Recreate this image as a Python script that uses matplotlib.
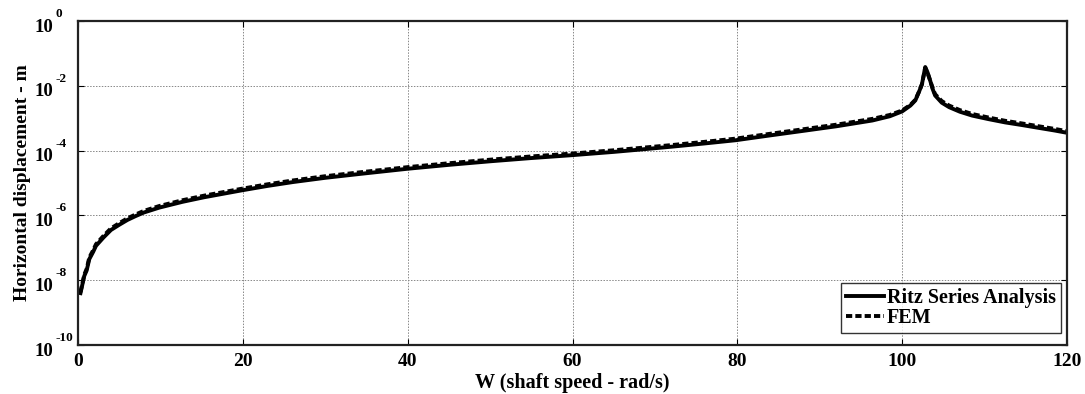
import numpy as np
import matplotlib
matplotlib.use("Agg")
import matplotlib.pyplot as plt
from matplotlib.ticker import FixedLocator, FixedFormatter
from matplotlib.transforms import ScaledTranslation

plt.rcParams['font.family'] = ['Liberation Serif', 'DejaVu Serif']
plt.rcParams['font.weight'] = 'bold'

# Shaft speed (rad/s) and log10 of horizontal displacement (m)
speed = [0.3, 0.76, 1.05, 1.37, 1.85, 2.18, 3.1, 4.0, 5.0, 6.0, 7.0, 8.0, 9.86,
         12.7, 15.3, 19.8, 23.0, 26.1, 30.0, 34.2, 40.0, 45.0, 50.0, 55.0, 60.0,
         65.0, 68.1, 72.0, 76.0, 79.8, 84.0, 88.3, 92.0, 96.4, 98.5, 100.0, 101.0,
         101.6, 102.1, 102.4, 102.8, 103.1, 103.4, 103.7, 104.0, 104.8, 105.7,
         107.0, 108.5, 110.5, 112.5, 114.5, 116.6, 118.5, 120.0]
ritz_log = [-8.40, -7.87, -7.70, -7.35, -7.12, -6.94, -6.68, -6.45, -6.29, -6.14,
            -6.02, -5.91, -5.76, -5.58, -5.44, -5.23, -5.09, -4.97, -4.84, -4.72,
            -4.56, -4.44, -4.33, -4.23, -4.14, -4.04, -3.97, -3.88, -3.78, -3.68,
            -3.53, -3.38, -3.25, -3.07, -2.94, -2.79, -2.61, -2.45, -2.15, -1.95,
            -1.42, -1.60, -1.84, -2.10, -2.30, -2.52, -2.66, -2.80, -2.92, -3.03,
            -3.13, -3.21, -3.30, -3.38, -3.45]
fem_log = [-8.37, -7.83, -7.65, -7.30, -7.07, -6.89, -6.63, -6.40, -6.24, -6.09,
           -5.97, -5.86, -5.71, -5.53, -5.39, -5.18, -5.04, -4.92, -4.79, -4.67,
           -4.51, -4.39, -4.28, -4.18, -4.09, -3.99, -3.92, -3.83, -3.73, -3.63,
           -3.48, -3.33, -3.20, -3.02, -2.90, -2.76, -2.59, -2.43, -2.15, -1.95,
           -1.45, -1.62, -1.84, -2.07, -2.26, -2.47, -2.61, -2.75, -2.87, -2.98,
           -3.08, -3.16, -3.25, -3.33, -3.40]

xticks = [0, 20, 40, 60, 80, 100, 120]
yexps = [0, -2, -4, -6, -8, -10]
ytick_base = ['10'] * len(yexps)
ytick_exp = ['0', '-2', '-4', '-6', '-8', '-10']

ritz = 10.0 ** np.array(ritz_log)
fem = 10.0 ** np.array(fem_log)

fig = plt.figure(figsize=(10.85, 3.94), dpi=100)
ax = fig.add_axes([78/1085, 1-345/394, (1067-78)/1085, (345-21)/394])

ax.plot(speed, ritz, color='black', lw=2.8, ls='-', label='Ritz Series Analysis',
        solid_joinstyle='round')
ax.plot(speed, fem, color='black', lw=2.8, ls=(0, (1.6, 0.8)), label='FEM')

ax.set_yscale('log')
ax.set_xlim(0, 120)
ax.set_ylim(1e-10, 1e0)
ax.xaxis.set_major_locator(FixedLocator(xticks))
ax.yaxis.set_major_locator(FixedLocator([10.0**e for e in yexps]))
ax.yaxis.set_minor_locator(FixedLocator([]))
ax.yaxis.set_major_formatter(FixedFormatter(ytick_base))
ax.tick_params(axis='y', labelsize=13.5, direction='in', length=4, width=0.8, right=True, pad=31)
ax.tick_params(axis='x', labelsize=14, direction='in', length=4, width=0.8, top=True, pad=6)

ax.grid(True, which='major', color='#888888', ls=(0, (1.5, 1.5)), lw=0.7)
for s in ax.spines.values():
    s.set_linewidth(1.6)
    s.set_color('#222222')

# y tick labels: left aligned, slightly below tick, with superscript exponents
shift = ScaledTranslation(0, -4/100, fig.dpi_scale_trans)
for lab in ax.get_yticklabels():
    lab.set_horizontalalignment('left')
    lab.set_fontweight('bold')
    lab.set_transform(lab.get_transform() + shift)
for lab in ax.get_xticklabels():
    lab.set_fontweight('bold')
for e, txt in zip(yexps, ytick_exp):
    ax.annotate(txt, xy=(0, 10.0**e), xycoords=('axes fraction', 'data'),
                xytext=(-23, 4), textcoords='offset pixels', ha='left', va='baseline',
                fontsize=9.5, fontweight='bold', annotation_clip=False)

ax.set_xlabel('W (shaft speed - rad/s)', fontsize=14.5, fontweight='bold', labelpad=2)
ax.set_ylabel('Horizontal displacement - m', fontsize=14, fontweight='bold', labelpad=3)

leg = ax.legend(loc='lower right', bbox_to_anchor=(1061/1085, 1-333/394), bbox_transform=fig.transFigure,
                prop={'size': 14.5, 'weight': 'bold'}, frameon=True, fancybox=False,
                handlelength=1.9, handletextpad=0.15, borderpad=0.25, labelspacing=0.0,
                borderaxespad=0)
leg.get_frame().set_edgecolor('black')
leg.get_frame().set_linewidth(1.0)

fig.savefig('out.png', dpi=100)
